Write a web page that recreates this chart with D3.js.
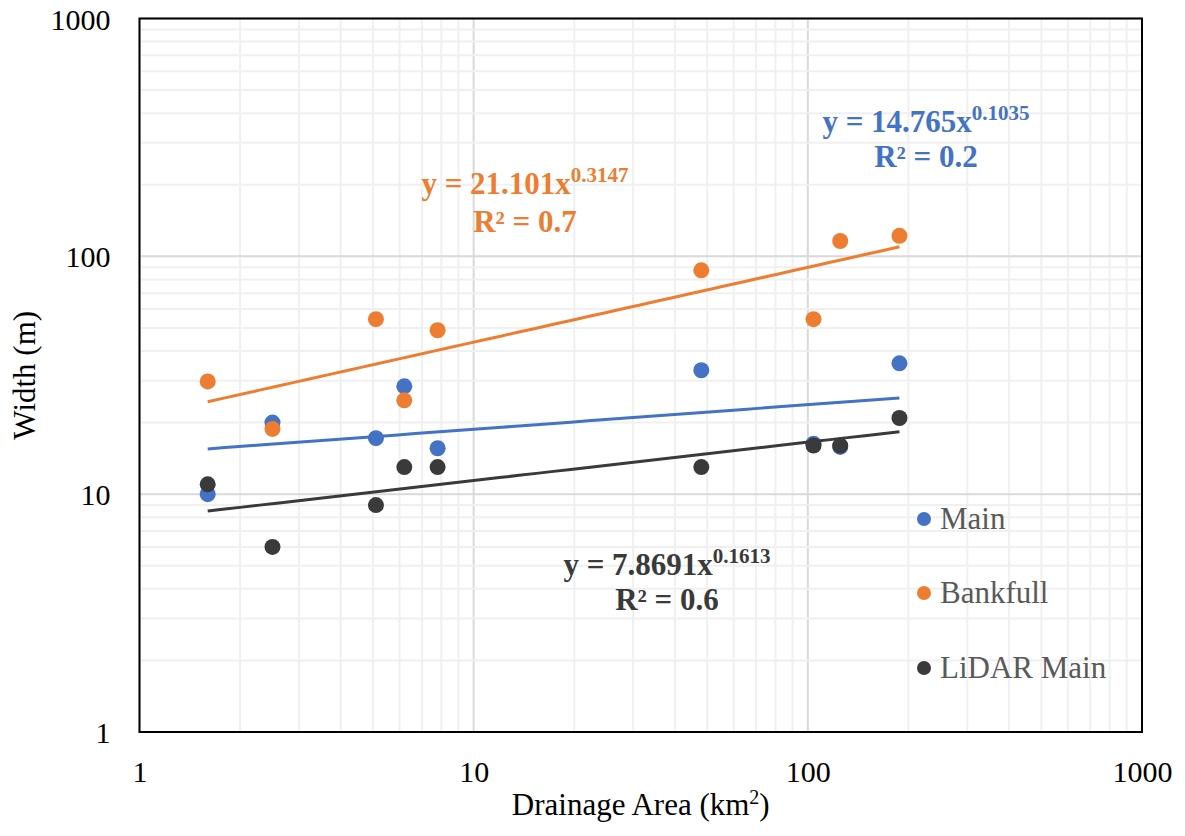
<!DOCTYPE html>
<html>
<head>
<meta charset="utf-8">
<script src="https://cdn.jsdelivr.net/npm/d3@7"></script>
<style>
  html, body { margin: 0; padding: 0; background: #ffffff; }
  svg { display: block; }
</style>
</head>
<body>
<svg id="chart" width="1185" height="836" font-family="Liberation Serif"></svg>
<script>
// ---------- data ----------
const drainageArea = [1.6, 2.5, 5.1, 6.2, 7.8, 48, 104, 125, 188];
const mainWidth     = [10, 20, 17.2, 28.4, 15.6, 33.2, 16.3, 15.8, 35.5];
const bankfullWidth = [29.8, 18.8, 54.4, 24.8, 48.9, 87.3, 54.4, 116, 122];
const lidarWidth    = [11.0, 6.0, 9.0, 13.0, 13.0, 13.0, 16.0, 16.0, 20.9];

const seriesNames = ["Main", "Bankfull", "LiDAR Main"];
const seriesColors = ["#4472C4", "#ED7D31", "#3A3A3A"];
// power trendline coefficients (a * x^b) and labels
const trendA = [14.765, 21.101, 7.8691];
const trendB = [0.1035, 0.3147, 0.1613];
const trendCoefText = ["14.765", "21.101", "7.8691"];
const trendExpText  = ["0.1035", "0.3147", "0.1613"];
const trendR2Text   = ["0.2", "0.7", "0.6"];

const xTickValues = [1, 10, 100, 1000];
const xTickLabels = ["1", "10", "100", "1000"];
const yTickValues = [1, 10, 100, 1000];
const yTickLabels = ["1", "10", "100", "1000"];
const xTitle = "Drainage Area (km";
const yTitle = "Width (m)";

const FONT = "Liberation Serif";

// ---------- layout ----------
const svg = d3.select("#chart");
const L = 139.5, R = 1142, T = 18.5, B = 732;

const x = d3.scaleLog().domain([1, 1000]).range([L, R]);
const y = d3.scaleLog().domain([1, 1000]).range([B, T]);

// gridlines
const grid = svg.append("g");
const xt = x.ticks();
const yt = y.ticks();
grid.selectAll("line.vx").data(xt).join("line")
  .attr("x1", d => x(d)).attr("x2", d => x(d))
  .attr("y1", T).attr("y2", B)
  .attr("stroke", d => xTickValues.includes(d) ? "#d9d9d9" : "#f0f0f0")
  .attr("stroke-width", 2);
grid.selectAll("line.hy").data(yt).join("line")
  .attr("y1", d => y(d)).attr("y2", d => y(d))
  .attr("x1", L).attr("x2", R)
  .attr("stroke", d => yTickValues.includes(d) ? "#d9d9d9" : "#f0f0f0")
  .attr("stroke-width", 2);

// frame
svg.append("rect")
  .attr("x", L).attr("y", T).attr("width", R - L).attr("height", B - T)
  .attr("fill", "none").attr("stroke", "#000").attr("stroke-width", 2);

// axes
const xAxis = d3.axisBottom(x).tickValues(xTickValues).tickSize(0)
  .tickFormat((d, i) => xTickLabels[i]);
const gx = svg.append("g").attr("transform", `translate(0,${B})`).call(xAxis)
  .attr("font-family", FONT);
gx.select(".domain").remove();
gx.selectAll("text").attr("font-family", FONT).attr("font-size", 30).attr("fill", "#000")
  .attr("dy", null).attr("y", 50);

const yAxis = d3.axisLeft(y).tickValues(yTickValues).tickSize(0)
  .tickFormat((d, i) => yTickLabels[i]);
const gy = svg.append("g").attr("transform", `translate(${L},0)`).call(yAxis)
  .attr("font-family", FONT);
gy.select(".domain").remove();
gy.selectAll("text").attr("font-family", FONT).attr("font-size", 30).attr("fill", "#000")
  .attr("x", -29).attr("dy", "0.35em");

// axis titles
const xt1 = svg.append("text").attr("x", (L + R) / 2).attr("y", 815)
  .attr("font-family", FONT)
  .attr("text-anchor", "middle").attr("font-size", 31).attr("fill", "#000");
xt1.append("tspan").text(xTitle);
xt1.append("tspan").attr("font-size", 20).attr("dy", -11).text("2");
xt1.append("tspan").attr("dy", 11).text(")");

svg.append("text")
  .attr("transform", `translate(35,${(T + B) / 2}) rotate(-90)`)
  .attr("font-family", FONT)
  .attr("text-anchor", "middle").attr("font-size", 31).attr("fill", "#000")
  .text(yTitle);

// points
const allY = [mainWidth, bankfullWidth, lidarWidth];
allY.forEach((vals, s) => {
  svg.append("g").selectAll("circle").data(vals).join("circle")
    .attr("cx", (d, i) => x(drainageArea[i]))
    .attr("cy", d => y(d))
    .attr("r", 8)
    .attr("fill", seriesColors[s]);
});

// trendlines
const xmin = d3.min(drainageArea), xmax = d3.max(drainageArea);
const line = d3.line().x(d => x(d[0])).y(d => y(d[1]));
[0, 1, 2].forEach(s => {
  const pts = d3.range(0, 41).map(k => {
    const xv = Math.exp(Math.log(xmin) + (Math.log(xmax) - Math.log(xmin)) * k / 40);
    return [xv, trendA[s] * Math.pow(xv, trendB[s])];
  });
  svg.append("path").attr("d", line(pts)).attr("fill", "none")
    .attr("stroke", seriesColors[s]).attr("stroke-width", 3);
});

// equation labels
const eqPos = [[926, 132, 167], [525, 194, 232], [667, 575, 610]];
[0, 1, 2].forEach(s => {
  const [cx, y1, y2] = eqPos[s];
  const t = svg.append("text").attr("x", cx).attr("y", y1)
    .attr("font-family", FONT)
    .attr("text-anchor", "middle").attr("font-size", 31).attr("font-weight", "bold")
    .attr("fill", seriesColors[s]);
  t.append("tspan").text("y = " + trendCoefText[s] + "x");
  t.append("tspan").attr("font-size", 21).attr("dy", -12).text(trendExpText[s]);
  svg.append("text").attr("x", cx).attr("y", y2)
    .attr("font-family", FONT)
    .attr("text-anchor", "middle").attr("font-size", 31).attr("font-weight", "bold")
    .attr("fill", seriesColors[s]).text("R² = " + trendR2Text[s]);
});

// legend
const legY = [519, 593, 668];
seriesNames.forEach((n, s) => {
  svg.append("circle").attr("cx", 924).attr("cy", legY[s]).attr("r", 7)
    .attr("fill", seriesColors[s]);
  svg.append("text").attr("x", 940).attr("y", legY[s]).attr("dy", "0.33em")
    .attr("font-family", FONT)
    .attr("font-size", 31).attr("fill", "#595959").text(n);
});
</script>
</body>
</html>
